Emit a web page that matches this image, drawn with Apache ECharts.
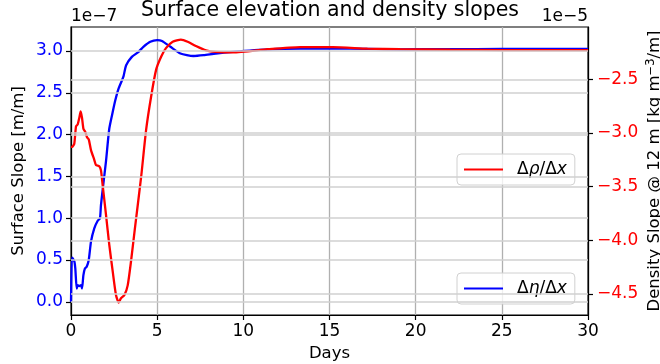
<!DOCTYPE html>
<html>
<head>
<meta charset="utf-8">
<script src="https://cdn.jsdelivr.net/npm/echarts@6/dist/echarts.min.js"></script>
<style>
  html, body { margin: 0; padding: 0; background: #fff; }
  #chart { width: 660px; height: 364px; }
</style>
</head>
<body>
<div id="chart"></div>
<script>
// ---- data ----
// Surface slope, in units of 1e-7 m/m
const etaDays = [0, 0.05, 0.1, 0.2, 0.25, 0.33, 0.39, 0.48, 0.58, 0.64, 0.72, 0.81, 0.91, 1.03, 1.16, 1.35, 1.55, 1.68, 1.74, 1.87, 2.03, 2.22, 2.42, 2.57, 2.76, 2.96, 3.05, 3.2, 3.53, 3.92, 4.2, 4.6, 5.0, 5.28, 5.77, 6.35, 7.1, 7.7, 8.4, 9.4, 11.4, 13.3, 15.2, 17.2, 19.1, 22, 25, 30];
const etaVals = [0, 0.53, 0.52, 0.48, 0.40, 0.16, 0.20, 0.19, 0.20, 0.16, 0.32, 0.40, 0.42, 0.50, 0.72, 0.88, 0.97, 1.00, 1.16, 1.40, 1.68, 2.07, 2.27, 2.41, 2.55, 2.65, 2.70, 2.83, 2.93, 2.99, 3.05, 3.11, 3.13, 3.12, 3.05, 2.97, 2.94, 2.95, 2.97, 2.99, 3.02, 3.03, 3.03, 3.025, 3.02, 3.022, 3.024, 3.024];
// Density slope, in units of 1e-5 kg m^-3 / m
const rhoDays = [0, 0.06, 0.19, 0.29, 0.39, 0.48, 0.56, 0.64, 0.72, 0.83, 0.93, 1.03, 1.16, 1.35, 1.45, 1.64, 1.74, 1.84, 2.03, 2.22, 2.42, 2.61, 2.77, 2.9, 3.1, 3.29, 3.48, 3.7, 4.07, 4.36, 4.65, 4.94, 5.23, 5.51, 5.9, 6.38, 6.77, 7.25, 7.83, 8.4, 9.4, 11.4, 13.3, 15.2, 17.2, 19.1, 22, 25, 30];
const rhoVals = [-3.13, -3.13, -3.10, -2.94, -2.92, -2.86, -2.80, -2.86, -2.96, -2.99, -3.04, -3.06, -3.16, -3.25, -3.30, -3.31, -3.35, -3.49, -3.76, -4.04, -4.29, -4.51, -4.58, -4.54, -4.51, -4.42, -4.2, -3.9, -3.41, -2.97, -2.66, -2.41, -2.29, -2.21, -2.15, -2.13, -2.15, -2.19, -2.23, -2.245, -2.25, -2.22, -2.20, -2.20, -2.215, -2.22, -2.225, -2.228, -2.228];
// ticks
const xTicks = [0, 5, 10, 15, 20, 25, 30];
const leftTicks = [0, 0.5, 1.0, 1.5, 2.0, 2.5, 3.0];
const rightTicks = [-4.5, -4.0, -3.5, -3.0, -2.5];
const titleText = 'Surface elevation and density slopes';
const rhoName = 'Δρ/Δx';
const etaName = 'Δη/Δx';

const FONT = 'DejaVu Sans';
const pair = (xs, ys) => xs.map((x, i) => [x, ys[i]]);
const minus = v => (v < 0 ? '\u2212' : '') + Math.abs(v).toFixed(1);

const chart = echarts.init(document.getElementById('chart'), null, { renderer: 'canvas' });

const legendRich = {
  s: { width: 9, fontFamily: FONT, fontSize: 17 },
  u: { fontFamily: FONT, fontSize: 17, color: '#000' },
  i: { fontFamily: FONT, fontSize: 17, fontStyle: 'italic', color: '#000' }
};
const legendFmt = name => {
  const sym = name === rhoName ? 'ρ' : 'η';
  return '{s|}{u|Δ}{i|' + sym + '}{u|/Δ}{i|x}';
};
const legendBase = {
  left: 457, orient: 'vertical', padding: [7, 8, 7, 7],
  itemWidth: 39, itemHeight: 2, icon: 'rect',
  borderColor: '#d0d0d0', borderWidth: 1, borderRadius: 4,
  backgroundColor: 'rgba(255,255,255,0.8)',
  textStyle: { rich: legendRich }, formatter: legendFmt,
  selectedMode: false
};

const option = {
  animation: false,
  textStyle: { fontFamily: FONT },
  title: {
    text: titleText, left: 'center', top: 0, padding: 0,
    textStyle: { fontFamily: FONT, fontSize: 20.5, fontWeight: 'normal', color: '#000' }
  },
  legend: [
    Object.assign({}, legendBase, { top: 154, data: [rhoName] }),
    Object.assign({}, legendBase, { top: 273, data: [etaName] })
  ],
  graphic: [
    { type: 'text', left: 71, top: 8, style: { text: '1e\u22127', font: '17px "DejaVu Sans"', fill: '#000' } },
    { type: 'text', right: 72, top: 8, style: { text: '1e\u22125', font: '17px "DejaVu Sans"', fill: '#000' } }
  ],
  grid: { left: 71, right: 72, top: 27, bottom: 49, show: true, borderColor: '#000', borderWidth: 1.2, containLabel: false, outerBoundsMode: 'none' },
  xAxis: {
    type: 'value', min: 0, max: 30, interval: 5,
    name: 'Days', nameLocation: 'middle', nameGap: 30, nameMoveOverlap: false,
    nameTextStyle: { fontFamily: FONT, fontSize: 16.5, color: '#000' },
    axisLine: { show: true, onZero: false, lineStyle: { color: '#000', width: 1.2 } },
    axisTick: { show: true, inside: false, length: 5, lineStyle: { color: '#000', width: 1.2 } },
    axisLabel: { color: '#000', fontSize: 17, fontFamily: FONT, margin: 8, formatter: v => String(v) },
    splitLine: { show: true, lineStyle: { color: '#b0b0b0', width: 1.3 } }
  },
  yAxis: [
    {
      type: 'value', position: 'left', min: -0.157, max: 3.287,
      name: 'Surface Slope [m/m]', nameLocation: 'middle', nameGap: 44, nameRotate: 90, nameMoveOverlap: false,
      nameTextStyle: { fontFamily: FONT, fontSize: 16.5, color: '#000' },
      axisLine: { show: true, onZero: false, lineStyle: { color: '#000', width: 1.2 } },
      axisTick: { show: true, inside: false, length: 5, customValues: leftTicks, lineStyle: { color: '#000', width: 1.2 } },
      axisLabel: { customValues: leftTicks, color: '#0000ff', fontSize: 17, fontFamily: FONT, margin: 8, formatter: v => v.toFixed(1) },
      splitLine: { show: false }
    },
    {
      type: 'value', position: 'right', min: -4.696, max: -2.013,
      name: '{a|Density Slope @ 12 m [kg m}{s|\u22123}{a|/m]}', nameLocation: 'middle', nameGap: 57, nameRotate: 90, nameMoveOverlap: false,
      nameTextStyle: {
        fontFamily: FONT, fontSize: 16.5, color: '#000',
        rich: { a: { fontFamily: FONT, fontSize: 16.5, color: '#000' }, s: { fontFamily: FONT, fontSize: 11.5, color: '#000', verticalAlign: 'top', padding: [0, 0, 8, 0] } }
      },
      axisLine: { show: true, onZero: false, lineStyle: { color: '#000', width: 1.2 } },
      axisTick: { show: true, inside: false, length: 5, customValues: rightTicks, lineStyle: { color: '#000', width: 1.2 } },
      axisLabel: { customValues: rightTicks, color: '#ff0000', fontSize: 17, fontFamily: FONT, margin: 9, formatter: minus },
      splitLine: { show: false }
    }
  ],
  series: [
    {
      name: 'gridLeft', type: 'line', yAxisIndex: 0, z: 1, silent: true, showSymbol: false,
      data: pair(etaDays, etaVals), lineStyle: { opacity: 0, width: 0 },
      markLine: {
        silent: true, symbol: 'none', label: { show: false },
        lineStyle: { type: 'solid', color: '#d0d0d0', width: 1.5 },
        data: leftTicks.map(v => ({ yAxis: v }))
      }
    },
    {
      name: 'gridRight', type: 'line', yAxisIndex: 1, z: 1, silent: true, showSymbol: false,
      data: pair(rhoDays, rhoVals), lineStyle: { opacity: 0, width: 0 },
      markLine: {
        silent: true, symbol: 'none', label: { show: false },
        lineStyle: { type: 'solid', color: '#d0d0d0', width: 1.5 },
        data: rightTicks.map(v => ({ yAxis: v }))
      }
    },
    {
      name: etaName, type: 'line', yAxisIndex: 0, z: 3, showSymbol: false, smooth: 0.2,
      data: pair(etaDays, etaVals), color: '#0000ff',
      lineStyle: { color: '#0000ff', width: 2.3 }
    },
    {
      name: rhoName, type: 'line', yAxisIndex: 1, z: 4, showSymbol: false, smooth: 0.2,
      data: pair(rhoDays, rhoVals), color: '#ff0000',
      lineStyle: { color: '#ff0000', width: 2.3 }
    }
  ]
};
chart.setOption(option);
</script>
</body>
</html>
